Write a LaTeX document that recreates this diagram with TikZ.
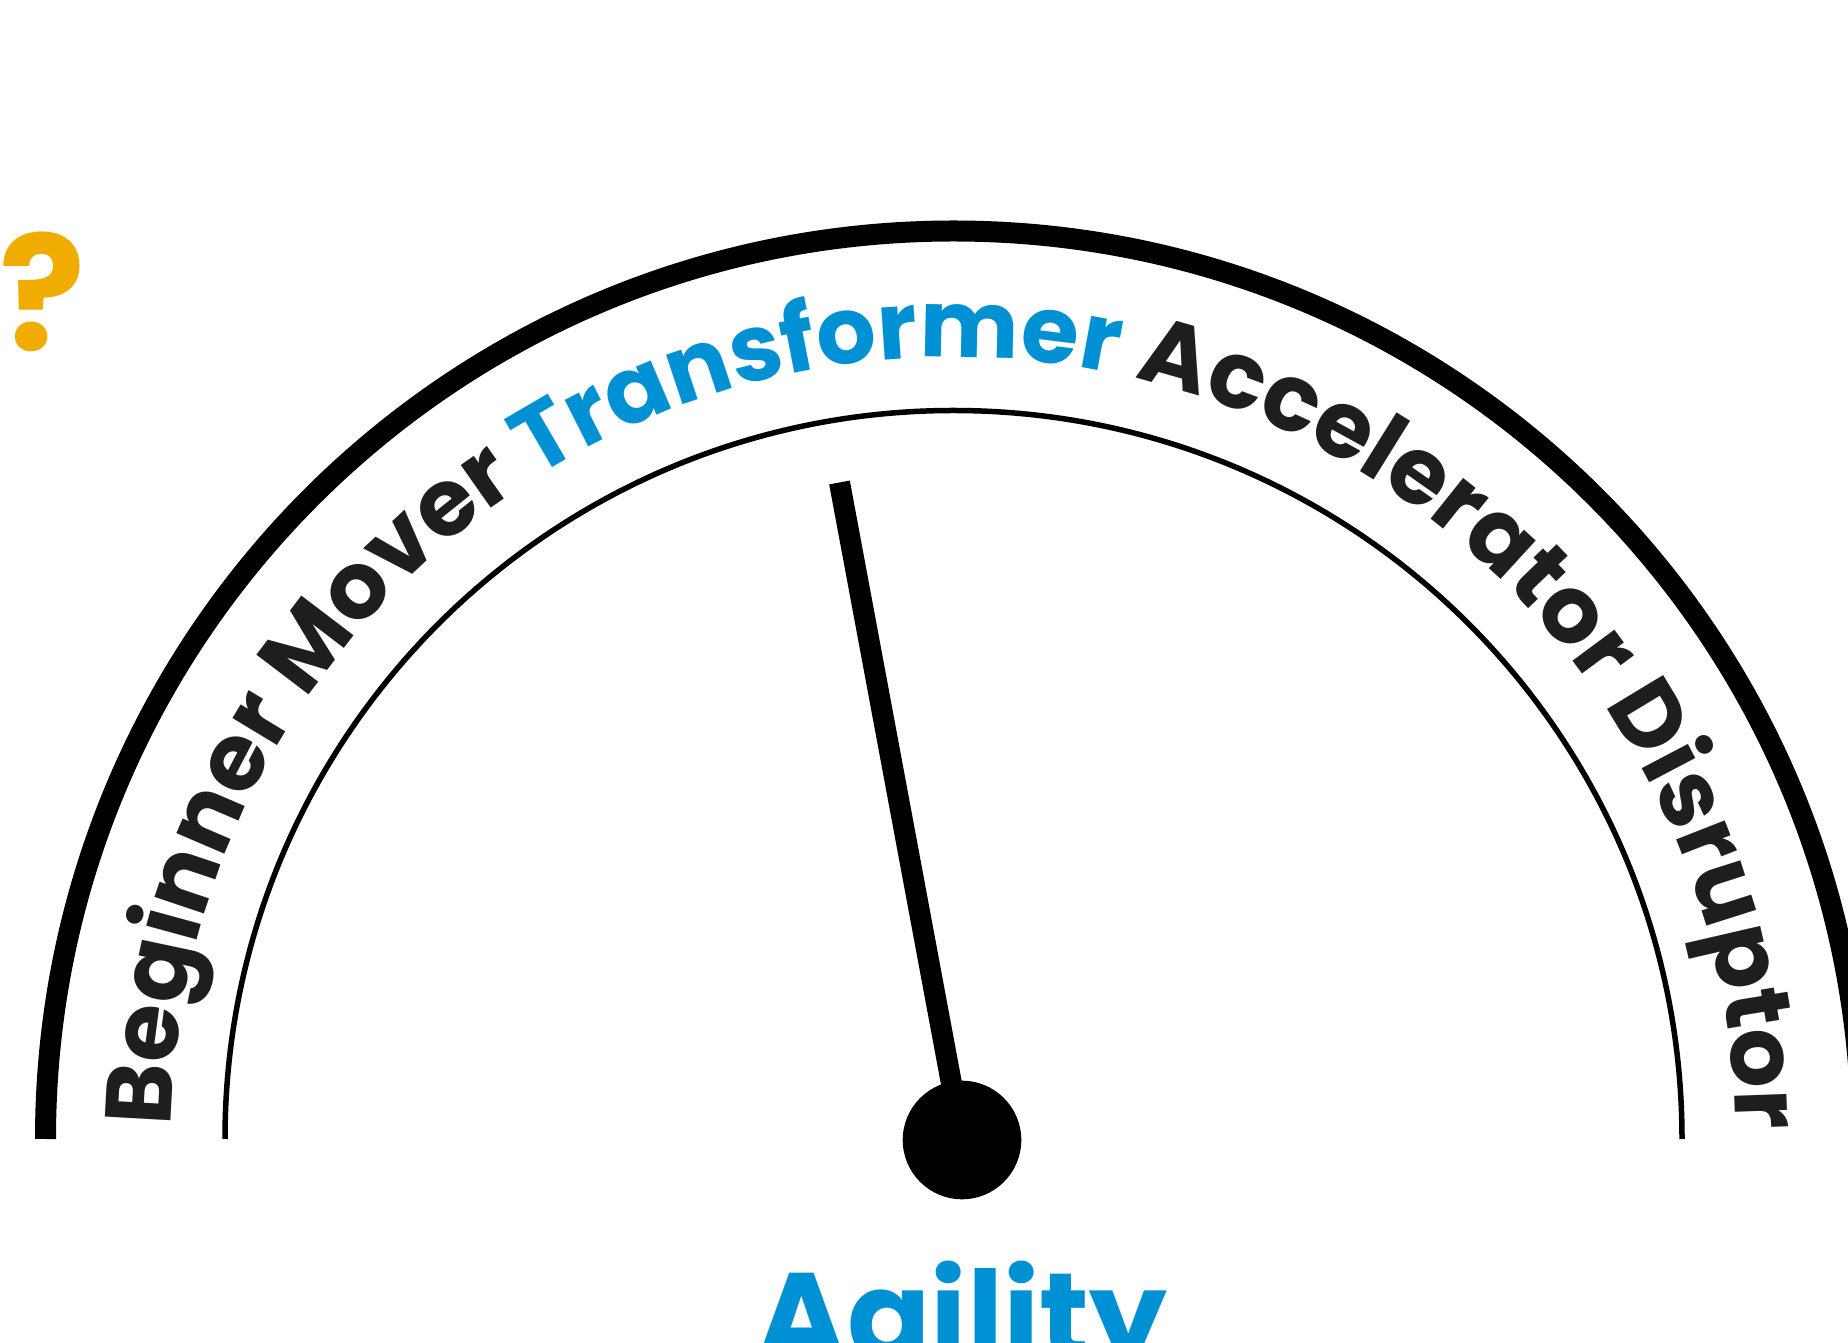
\documentclass[tikz,border=0pt]{standalone}
\usepackage{fontspec}
\setmainfont{Poppins}
\usetikzlibrary{decorations.text}
\definecolor{gblue}{HTML}{0091D5}
\definecolor{gdark}{HTML}{1E1E1C}
\definecolor{gyellow}{HTML}{F0AD00}
\newcommand{\arcfnt}{\fontsize{93.5pt}{93.5pt}\selectfont\bfseries}
\begin{document}
\begin{tikzpicture}[x=1pt,y=1pt,
  outerarc/.style={line width=21pt},
  innerarc/.style={line width=5.5pt},
  needlestyle/.style={line width=21pt},
  hubstyle/.style={circle, fill=black, inner sep=0pt, minimum size=118.6pt},
  labelstyle/.style={inner sep=0pt, font=\fontsize{123pt}{123pt}\selectfont\bfseries, text=gblue}]
\clip (0,0) rectangle (1848,1342);
\coordinate (C) at (953.5,203);
\draw[outerarc] (C) ++(180:908) arc[start angle=180,end angle=0,radius=908];
\draw[innerarc] (C) ++(180:728.5) arc[start angle=180,end angle=0,radius=728.5];
\path[decorate, decoration={text along path, text align=center,
  text={|\arcfnt\color{gdark}|Beginner Mover |\arcfnt\color{gblue}|Transformer|\arcfnt\color{gdark}| Accelerator Disruptor}}]
  (C) ++(209.85:782) arc[start angle=209.85,end angle=-30.15,radius=782];
\node[hubstyle] (hub) at (962,202) {};
\coordinate (tip) at (839.5,859.5);
\draw[needlestyle] (tip) -- (hub.center);
\node[labelstyle, anchor=base] (agility) at (962,-17) {Agility};
\node[inner sep=0pt, font=\fontsize{160pt}{160pt}\selectfont\bfseries, text=gyellow, anchor=base east] (qmark) at (86,991) {?};
\end{tikzpicture}
\end{document}
